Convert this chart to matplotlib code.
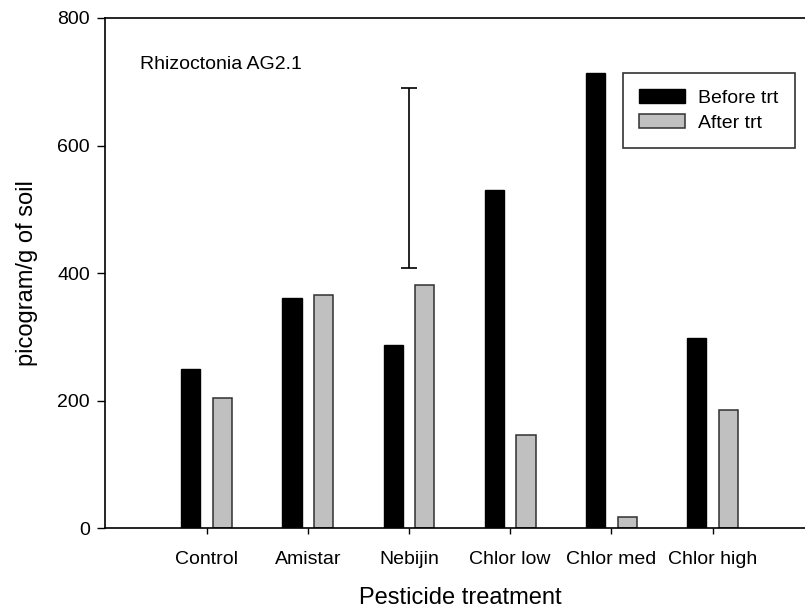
import matplotlib
matplotlib.use("Agg")
import matplotlib.pyplot as plt
import numpy as np

plt.rcParams["font.family"] = ["Liberation Sans", "DejaVu Sans"]

# Data: pathogen DNA per gram of soil by pesticide treatment
treatments = ["Control", "Amistar", "Nebijin", "Chlor low", "Chlor med", "Chlor high"]
before_trt = [250, 361, 288, 530, 714, 299]
after_trt = [204, 365, 381, 146, 18, 186]

# Error bar shown for the Nebijin group
err_group = "Nebijin"
err_low = 408
err_high = 690

fig = plt.figure(figsize=(8.05, 6.1), dpi=100)
W, H = 805, 610
left_px, right_px, top_px, bottom_px = 105, 805, 18, 528.3
ax = fig.add_axes([left_px / W, 1 - bottom_px / H,
                   (right_px - left_px) / W, (bottom_px - top_px) / H])

x = np.arange(len(treatments))
bar_w = 0.19
offset = 0.156
ax.bar(x - offset, before_trt, width=bar_w, color="black", edgecolor="black",
       linewidth=1.0, label="Before trt", zorder=2)
ax.bar(x + offset, after_trt, width=bar_w, color="#c0c0c0", edgecolor="#303030",
       linewidth=1.1, label="After trt", zorder=2)

gi = treatments.index(err_group)
mid = (err_low + err_high) / 2
ax.errorbar([x[gi]], [mid], yerr=[[mid - err_low], [err_high - mid]], fmt="none",
            ecolor="black", elinewidth=1.2, capsize=5.5, capthick=1.2, zorder=3)

ax.set_xlim(-1.004, 5.913)
ax.set_ylim(0, 800)
ax.set_yticks([0, 200, 400, 600, 800])
ax.set_xticks(x)
ax.set_xticklabels(treatments)

for side in ("left", "top", "bottom"):
    ax.spines[side].set_linewidth(1.2)
    ax.spines[side].set_color("black")
ax.spines["right"].set_visible(False)

ax.tick_params(axis="y", direction="out", length=5.8, width=1.0, pad=5,
               labelsize=14)
ax.tick_params(axis="x", direction="out", length=4.3, width=1.0, pad=12,
               labelsize=14)

ax.set_ylabel("picogram/g of soil", fontsize=17, va="center")
ax.yaxis.set_label_coords(-0.1114, 0.5)
ax.set_xlabel("Pesticide treatment", fontsize=17, va="center")
ax.xaxis.set_label_coords(0.507, -0.137)

ax.text(0.05, 0.908, "Rhizoctonia AG2.1", transform=ax.transAxes,
        fontsize=14, ha="left", va="center")

leg = ax.legend(loc="upper right", bbox_to_anchor=(795 / W, 1 - 72.7 / H),
                bbox_transform=fig.transFigure, fontsize=14, frameon=True,
                fancybox=False, borderaxespad=0, handlelength=2.36,
                handleheight=0.75, handletextpad=0.67, labelspacing=0.35,
                borderpad=0.85)
leg.get_frame().set_edgecolor("black")
leg.get_frame().set_linewidth(1.2)

fig.savefig("out.png", dpi=100)
